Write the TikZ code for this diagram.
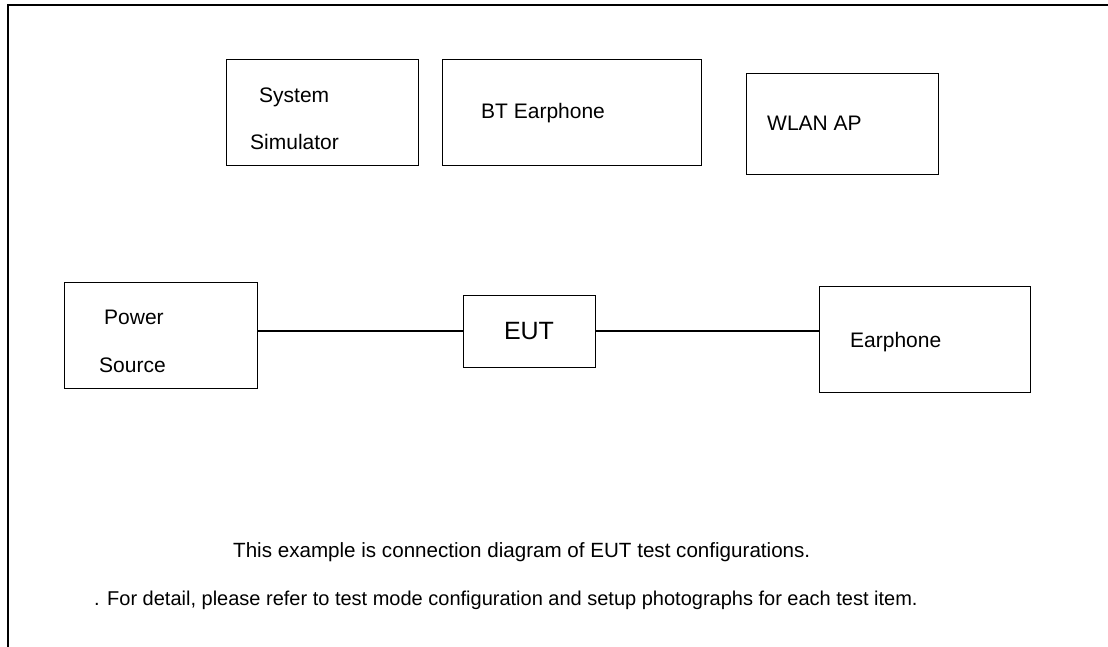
\documentclass[tikz,border=0pt]{standalone}
\usepackage{fontspec}
\setmainfont{Liberation Sans}

\begin{document}
\begin{tikzpicture}[x=1pt,y=-1pt,
    box/.style={draw,line width=0.9pt,minimum width=#1,inner sep=0pt},
    lbl/.style={anchor=base west,inner sep=0pt,font=\fontsize{21}{25}\selectfont},
    note/.style={anchor=base west,inner sep=0pt,font=\fontsize{#1}{24}\selectfont},
    link/.style={line width=1.3pt}]
    \useasboundingbox (0,0) rectangle (1108,647);
    \draw[line width=2pt] (8,647) -- (8,5) -- (1108,5);

    \node[box=192pt,minimum height=106pt] (sim) at (322,112) {};
    \node[box=259pt,minimum height=106pt] (bt) at (571.5,112) {};
    \node[box=192pt,minimum height=101pt] (wlan) at (842,123.5) {};
    \node[box=193pt,minimum height=106pt] (power) at (160.5,335) {};
    \node[box=132pt,minimum height=72pt,font=\fontsize{25}{30}\selectfont] (eut) at (529,331) {EUT};
    \node[box=211pt,minimum height=106pt] (ear) at (924.5,339) {};

    \draw[link] (eut.west) -- (eut.west -| power.east);
    \draw[link] (eut.east) -- (eut.east -| ear.west);

    \node[lbl] (simA) at (259,103) {System};
    \node[lbl] (simB) at (250,150) {Simulator};
    \node[lbl] (btA) at (481,119) {BT Earphone};
    \node[lbl] (wlanA) at (767,131) {WLAN AP};
    \node[lbl] (powerA) at (104,324) {Power};
    \node[lbl] (powerB) at (99,372) {Source};
    \node[lbl] (earA) at (850,347) {Earphone};

    \node[note=20.6] (noteA) at (233,557) {This example is connection diagram of EUT test configurations.};
    \node[note=20] (noteB) at (94,605) {. For detail, please refer to test mode configuration and setup photographs for each test item.};
\end{tikzpicture}
\end{document}
